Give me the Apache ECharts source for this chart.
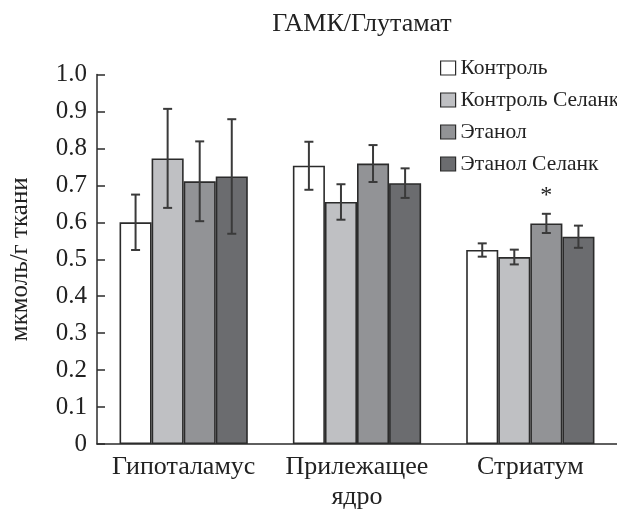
<!DOCTYPE html>
<html>
<head>
<meta charset="utf-8">
<script src="https://cdn.jsdelivr.net/npm/echarts@6/dist/echarts.min.js"></script>
<style>
  html, body { margin: 0; padding: 0; background: #fff; }
  #chart { width: 617px; height: 512px; }
</style>
</head>
<body>
<div id="chart"></div>
<script>
// Brain regions on the category axis
const regions = ['Гипоталамус', 'Прилежащее\nядро', 'Стриатум'];

// Group names (legend order)
const groups = ['Контроль', 'Контроль Селанк', 'Этанол', 'Этанол Селанк'];

// Mean GABA/glutamate ratio per group, one value per region
const control       = [0.600, 0.753, 0.525];
const controlSelank = [0.773, 0.655, 0.506];
const ethanol       = [0.711, 0.759, 0.597];
const ethanolSelank = [0.724, 0.706, 0.561];

// Error (± half range) per group, one value per region
const controlErr       = [0.075, 0.065, 0.018];
const controlSelankErr = [0.134, 0.048, 0.020];
const ethanolErr       = [0.108, 0.050, 0.026];
const ethanolSelankErr = [0.155, 0.040, 0.030];

// Significance marks: [region index, group index]
const significant = [[2, 2]];

const yTicks = [0, 0.1, 0.2, 0.3, 0.4, 0.5, 0.6, 0.7, 0.8, 0.9, 1.0];

const means = [control, controlSelank, ethanol, ethanolSelank];
const errs = [controlErr, controlSelankErr, ethanolErr, ethanolSelankErr];
const colors = ['#ffffff', '#bfc0c3', '#929396', '#6b6c6f'];
const FONT = '"Liberation Serif", "DejaVu Serif", serif';
const BAR_SHARE = 0.74; // fraction of a category band covered by the four bars

const barSeries = groups.map((name, gi) => ({
  name,
  type: 'bar',
  data: means[gi],
  barGap: '0%',
  barCategoryGap: '26%',
  itemStyle: { color: colors[gi], borderColor: '#2b2b2b', borderWidth: 1.6 },
  emphasis: { disabled: true },
  z: 2
}));

// Flat list of whisker records: [regionIndex, groupIndex, mean, err]
const errRecords = [];
groups.forEach((g, gi) => {
  regions.forEach((r, ri) => errRecords.push([ri, gi, means[gi][ri], errs[gi][ri]]));
});

const errorSeries = {
  type: 'custom',
  name: 'err',
  data: errRecords,
  z: 5,
  silent: true,
  renderItem(params, api) {
    const ri = api.value(0), gi = api.value(1), m = api.value(2), e = api.value(3);
    const band = api.size([1, 0])[0];
    const bw = band * BAR_SHARE / groups.length;
    const c = api.coord([ri, m]);
    const x = c[0] - 2 * bw + (gi + 0.5) * bw;
    const yHi = api.coord([ri, m + e])[1];
    const yLo = api.coord([ri, m - e])[1];
    const half = 4.5;
    const style = { stroke: '#3a3a3a', lineWidth: 2 };
    const children = [
      { type: 'line', shape: { x1: x, y1: yHi, x2: x, y2: yLo }, style },
      { type: 'line', shape: { x1: x - half, y1: yHi, x2: x + half, y2: yHi }, style },
      { type: 'line', shape: { x1: x - half, y1: yLo, x2: x + half, y2: yLo }, style }
    ];
    if (significant.some(s => s[0] === ri && s[1] === gi)) {
      children.push({
        type: 'text',
        style: { text: '*', x: x, y: yHi - 6, textAlign: 'center', textVerticalAlign: 'bottom',
                 font: '24px ' + FONT, fill: '#222' }
      });
    }
    return { type: 'group', children };
  }
};

const chart = echarts.init(document.getElementById('chart'), null, { renderer: 'canvas' });
chart.setOption({
  animation: false,
  backgroundColor: '#ffffff',
  textStyle: { fontFamily: FONT },
  title: {
    text: 'ГАМК/Глутамат',
    left: 357,
    textAlign: 'center',
    top: 6,
    textStyle: { fontFamily: FONT, fontSize: 26, fontWeight: 'normal', color: '#222' }
  },
  legend: {
    data: groups,
    orient: 'vertical',
    left: 435,
    top: 52,
    itemWidth: 15,
    itemHeight: 14,
    itemGap: 10,
    icon: 'rect',
    selectedMode: false,
    textStyle: { fontFamily: FONT, fontSize: 21.5, color: '#222' },
    itemStyle: { borderColor: '#2b2b2b', borderWidth: 1.2 }
  },
  grid: { left: 93, right: -12, top: 74.5, bottom: 64, containLabel: false },
  xAxis: {
    type: 'category',
    data: regions,
    axisLine: { lineStyle: { color: '#2b2b2b', width: 1.5 } },
    axisTick: { show: false },
    axisLabel: { interval: 0, hideOverlap: false, fontFamily: FONT, fontSize: 26, color: '#222', margin: 8, lineHeight: 30 }
  },
  yAxis: {
    type: 'value',
    min: 0,
    max: 1.0,
    interval: 0.1,
    name: 'мкмоль/г ткани',
    nameLocation: 'middle',
    nameGap: 64,
    nameTextStyle: { fontFamily: FONT, fontSize: 25, color: '#222' },
    axisLine: { show: true, lineStyle: { color: '#2b2b2b', width: 1.5 } },
    axisTick: { show: true, inside: true, length: 8, lineStyle: { color: '#2b2b2b', width: 1.5 } },
    splitLine: { show: false },
    axisLabel: {
      fontFamily: FONT, fontSize: 25, color: '#222', margin: 10,
      formatter: v => {
        const t = yTicks.find(k => Math.abs(k - v) < 1e-9);
        return t === 0 ? '0' : (t !== undefined ? t.toFixed(1) : '');
      }
    }
  },
  series: [...barSeries, errorSeries]
});
</script>
</body>
</html>
